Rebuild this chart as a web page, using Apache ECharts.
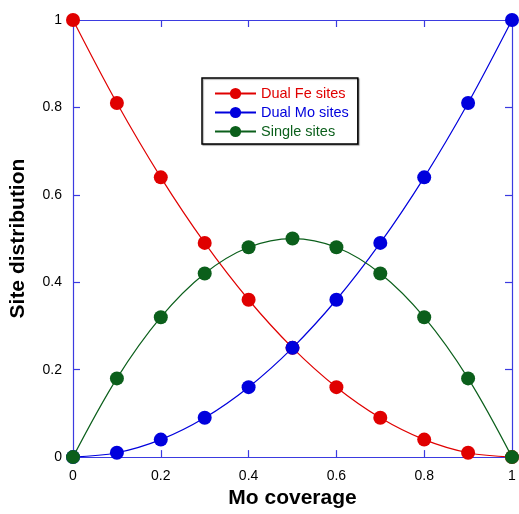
<!DOCTYPE html>
<html><head><meta charset="utf-8">
<script src="https://cdn.jsdelivr.net/npm/echarts@6/dist/echarts.min.js"></script>
<style>html,body{margin:0;padding:0;background:#fff}#c{width:519px;height:514px}</style>
</head><body><div id="c"></div>
<script>
const coverage = [0, 0.1, 0.2, 0.3, 0.4, 0.5, 0.6, 0.7, 0.8, 0.9, 1];
const dualFe = [1, 0.81, 0.64, 0.49, 0.36, 0.25, 0.16, 0.09, 0.04, 0.01, 0];
const dualMo = [0, 0.01, 0.04, 0.09, 0.16, 0.25, 0.36, 0.49, 0.64, 0.81, 1];
const single = [0, 0.18, 0.32, 0.42, 0.48, 0.5, 0.48, 0.42, 0.32, 0.18, 0];
const seriesNames = ['Dual Fe sites', 'Dual Mo sites', 'Single sites'];
const seriesColors = ['#e00000', '#0000dd', '#0b5f1b'];
const seriesData = [dualFe, dualMo, single];

const axisColor = '#3b3be0';
const font = 'Liberation Sans, Arial, sans-serif';
const chart = echarts.init(document.getElementById('c'));

function baseAxis() {
  return {
    type: 'value', min: 0, max: 1, interval: 0.2,
    axisLine: { show: true, onZero: false, lineStyle: { color: axisColor, width: 1.2 } },
    axisTick: { show: true, inside: true, length: 7, lineStyle: { color: axisColor, width: 1.2 } },
    splitLine: { show: false }
  };
}

chart.setOption({
  animation: false,
  grid: { left: 73, right: 7, top: 20, bottom: 56 },
  xAxis: [
    Object.assign(baseAxis(), {
      position: 'bottom',
      name: 'Mo coverage', nameLocation: 'middle', nameGap: 28,
      nameTextStyle: { fontFamily: font, fontSize: 21, fontWeight: 'bold', color: '#000' },
      axisLabel: { margin: 12, fontFamily: font, fontSize: 14, color: '#000' }
    }),
    Object.assign(baseAxis(), { position: 'top', axisLabel: { show: false } })
  ],
  yAxis: [
    Object.assign(baseAxis(), {
      position: 'left',
      name: 'Site distribution', nameLocation: 'middle', nameGap: 44,
      nameTextStyle: { fontFamily: font, fontSize: 21, fontWeight: 'bold', color: '#000' },
      axisLabel: { margin: 11, fontFamily: font, fontSize: 14, color: '#000' }
    }),
    Object.assign(baseAxis(), { position: 'right', axisLabel: { show: false } })
  ],
  legend: {
    orient: 'vertical', left: 202, top: 78,
    padding: [8, 9, 5, 12],
    itemGap: 4, itemWidth: 41, itemHeight: 14,
    borderColor: '#000', borderWidth: 1.5,
    backgroundColor: '#fff',
    shadowColor: 'rgba(0,0,0,0.35)', shadowOffsetX: 1, shadowOffsetY: 1, shadowBlur: 1,
    textStyle: { fontFamily: font, fontSize: 14.5 },
    data: seriesNames.map((n, i) => ({ name: n, textStyle: { color: seriesColors[i] } }))
  },
  series: seriesNames.map((n, i) => ({
    name: n, type: 'line', smooth: 0.35,
    xAxisIndex: 0, yAxisIndex: 0,
    data: coverage.map((x, j) => [x, seriesData[i][j]]),
    symbol: 'circle', symbolSize: 14,
    lineStyle: { color: seriesColors[i], width: 1.2 },
    itemStyle: { color: seriesColors[i] },
    clip: false
  }))
});
</script></body></html>
